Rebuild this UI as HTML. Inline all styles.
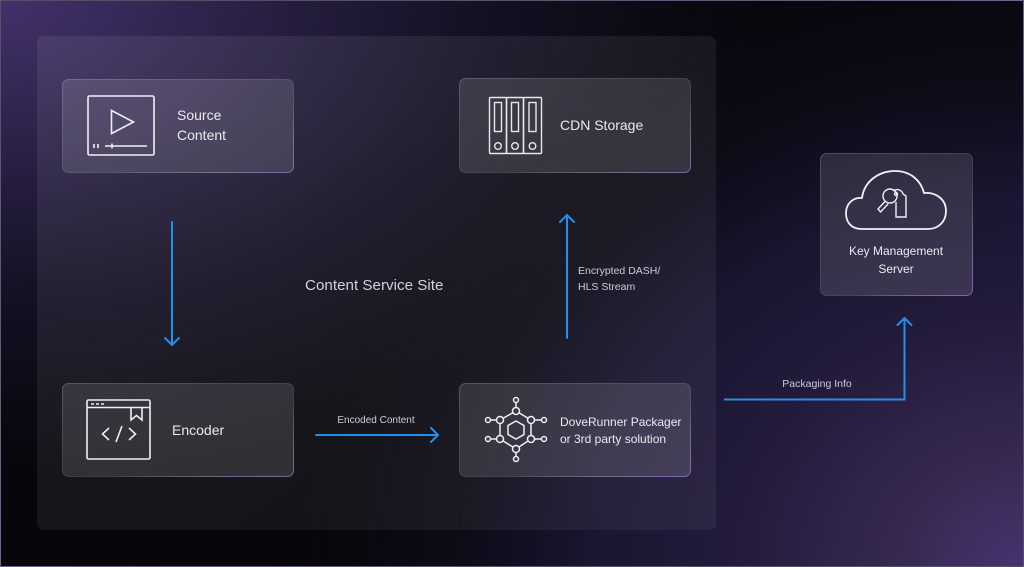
<!DOCTYPE html>
<html><head><meta charset="utf-8">
<style>
html,body{margin:0;padding:0;}
body{width:1024px;height:567px;overflow:hidden;background:#07070d;}
#bg{position:absolute;left:0;top:0;width:1024px;height:567px;box-sizing:border-box;border:1px solid rgba(150,140,175,0.55);
background:
radial-gradient(ellipse 720px 620px at 100% 100%, #47336f 0%, #36284f 18%, #221a3a 42%, #1a1530 60%, rgba(14,12,24,0.9) 78%, rgba(8,8,14,0) 100%),
radial-gradient(ellipse 760px 470px at 0% 0%, #43306a 0%, #372a5a 15%, #241c3c 40%, #121021 65%, rgba(8,8,14,0) 100%),
#06060b;}
svg{position:absolute;left:0;top:0;}
text{font-family:"Liberation Sans",sans-serif;}
</style></head>
<body>
<div id="bg"></div>
<svg width="1024" height="567" viewBox="0 0 1024 567" xmlns="http://www.w3.org/2000/svg">
<defs>
<linearGradient id="bstroke" x1="0" y1="0" x2="1" y2="1">
<stop offset="0" stop-color="rgba(255,255,255,0.22)"/>
<stop offset="0.6" stop-color="rgba(255,255,255,0.12)"/>
<stop offset="1" stop-color="rgba(150,125,220,0.7)"/>
</linearGradient>
<linearGradient id="cfill" x1="0" y1="0" x2="1" y2="1">
<stop offset="0" stop-color="rgba(255,255,255,0.075)"/>
<stop offset="1" stop-color="rgba(255,255,255,0.05)"/>
</linearGradient>
</defs>
<!-- container -->
<rect x="37" y="36" width="679" height="494" rx="7" fill="url(#cfill)"/>

<!-- boxes -->
<g fill="rgba(255,255,255,0.12)" stroke="url(#bstroke)" stroke-width="1">
<rect x="62.5" y="79.5" width="231" height="93" rx="6"/>
<rect x="459.5" y="78.5" width="231" height="94" rx="6"/>
<rect x="62.5" y="383.5" width="231" height="93" rx="6"/>
<rect x="459.5" y="383.5" width="231" height="93" rx="6"/>
<rect x="820.5" y="153.5" width="152" height="142" rx="6"/>
</g>

<!-- Source icon -->
<g fill="none" stroke="#f2f0f6" stroke-width="1.6">
<rect x="88" y="96" width="66" height="59" rx="1.5"/>
<path d="M111.5 110.5 L111.5 133.5 L133.5 122 Z" stroke-linejoin="miter"/>
<path d="M94 144 v4 M98 144 v4 M105 146 H147 M112 143.5 v5"/>
</g>

<!-- CDN icon -->
<g fill="none" stroke="#e8e6ee" stroke-width="1.4">
<rect x="489.5" y="97.5" width="17" height="56" rx="1"/>
<rect x="506.5" y="97.5" width="17" height="56" rx="1"/>
<rect x="523.5" y="97.5" width="18" height="56" rx="1"/>
<rect x="494.5" y="102.5" width="7" height="29"/>
<rect x="511.5" y="102.5" width="7" height="29"/>
<rect x="529" y="102.5" width="7" height="29"/>
<circle cx="498" cy="146" r="3.3"/>
<circle cx="515" cy="146" r="3.3"/>
<circle cx="532.5" cy="146" r="3.3"/>
</g>

<!-- Encoder icon -->
<g fill="none" stroke="#f0eef4" stroke-width="1.6">
<rect x="87" y="400" width="63" height="59" rx="1.5"/>
<path d="M87 407.5 H150"/>
<path d="M91 404 h3 M96 404 h3 M101 404 h3" stroke-width="1.5"/>
<path d="M131 407.5 V420 L136.5 415.5 L142 420 V407.5"/>
<path d="M109 428 L102.5 434 L109 440 M129 428 L135.5 434 L129 440 M122 426 L116 442"/>
</g>

<!-- DoveRunner icon -->
<g fill="none" stroke="#f0eef4" stroke-width="1.5">
<path d="M516 411 L531 420 L531 439 L516 449 L500 439 L500 420 Z"/>
<path d="M516 421 L524 425.5 L524 434.5 L516 439 L508 434.5 L508 425.5 Z"/>
<path d="M516 411 V400 M516 449 V458 M500 420 H489 M500 439 H489 M531 420 H543 M531 439 H543"/>
</g>
<g fill="#3a3844" stroke="#f0eef4" stroke-width="1.5">
<circle cx="516" cy="411" r="3.5"/><circle cx="516" cy="449" r="3.5"/>
<circle cx="500" cy="420" r="3.5"/><circle cx="531" cy="420" r="3.5"/>
<circle cx="500" cy="439" r="3.5"/><circle cx="531" cy="439" r="3.5"/>
<circle cx="516" cy="400" r="2.5"/><circle cx="516" cy="459" r="2.5"/>
<circle cx="488" cy="420" r="2.5"/><circle cx="488" cy="439" r="2.5"/>
<circle cx="544" cy="420" r="2.5"/><circle cx="544" cy="439" r="2.5"/>
</g>

<!-- Key Management icon -->
<g fill="none" stroke="#f2f0f6" stroke-width="1.8" stroke-linejoin="round">
<path d="M862 229 C850 229 846 221 846 213 C846 203 854 197 862 198 C864 182 878 171 895 171 C911 171 921 181 924 193 C937 192 946 200 946 211 C946 222 938 229 928 229 Z"/>
</g>
<g fill="none" stroke="#f2f0f6" stroke-width="1.4">
<circle cx="890" cy="196" r="7"/>
<path d="M885.5 201 L878 209 L880.5 212 L888 204"/>
<path d="M893 191 C897 188 902 190 903 194 L906 196 L906 217 L896 217 L896 202"/>
<circle cx="896" cy="194" r="1.5"/>
</g>

<!-- arrows -->
<g fill="none" stroke="#2390ea" stroke-width="2" stroke-linecap="round">
<path d="M172 222 V344"/>
<path d="M165 338 L172 345 L179 338"/>
<path d="M316 435 H437"/>
<path d="M431 428 L438 435 L431 442"/>
<path d="M567 338 V216"/>
<path d="M560 222 L567 215 L574 222"/>
<path d="M724 399.5 H904.5 V319" stroke-linecap="butt"/>
<path d="M897.5 325 L904.5 318 L911.5 325"/>
</g>

<!-- texts -->
<g fill="#ece9f2">
<text x="177" y="120" font-size="14">Source</text>
<text x="177" y="140" font-size="14">Content</text>
<text x="560" y="130" font-size="14">CDN Storage</text>
<text x="172" y="435" font-size="14">Encoder</text>
<text x="560" y="426" font-size="12">DoveRunner Packager</text>
<text x="560" y="443" font-size="12">or 3rd party solution</text>
<text x="896" y="255" font-size="12" text-anchor="middle">Key Management</text>
<text x="896" y="273" font-size="12" text-anchor="middle">Server</text>
</g>
<text x="305" y="290" font-size="15.2" fill="#d4d0dc">Content Service Site</text>
<g fill="#cfcbd8" font-size="10.5">
<text x="376" y="423" text-anchor="middle" font-size="10">Encoded Content</text>
<text x="817" y="387" text-anchor="middle">Packaging Info</text>
<text x="578" y="274">Encrypted DASH/</text>
<text x="578" y="290">HLS Stream</text>
</g>
</svg>
</body></html>
